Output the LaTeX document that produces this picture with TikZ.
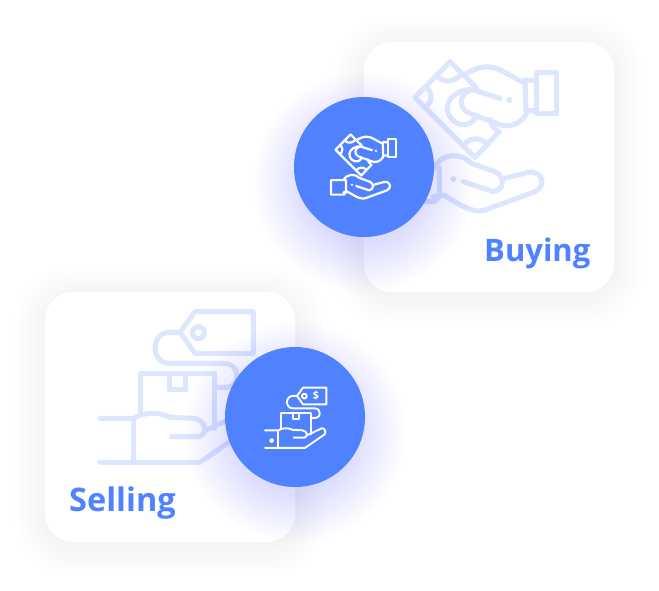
\documentclass[tikz,border=0pt]{standalone}
\usepackage{fontspec}
\setmainfont{Open Sans}
\definecolor{brand}{HTML}{5082FF}
\definecolor{pale}{HTML}{DCE6FF}
\definecolor{glow}{HTML}{5A6CFF}
\definecolor{cardshade}{HTML}{C0C4D0}
\tikzset{
  icon/.style={line cap=round,line join=round},
  cardtext/.style={text=brand,inner sep=0pt,anchor=base west},
}
\newcommand{\handsicon}{%
  % banknote
  \draw (228,112) -- (150,35) -- (45,142) -- (225,322) -- (298,245);
  \draw (115,82) .. controls (135,100) and (165,95) .. (185,72);
  \draw (82,115) .. controls (100,130) and (95,160) .. (76,172);
  \draw (190,288) .. controls (205,260) and (245,260) .. (262,285);
  \draw (270,208) .. controls (272,222) and (280,235) .. (290,240);
  % upper hand
  \draw (190,75) .. controls (235,50) and (265,40) .. (310,65) -- (365,95);
  \draw (375,90) -- (410,90) (375,90) -- (378,180) (378,182) -- (410,182);
  \draw (410,68) -- (470,68) -- (470,190) -- (410,190) -- cycle;
  \draw (380,190) .. controls (360,225) and (325,235) .. (295,222) -- (222,195);
  \draw (300,145) -- (222,120) .. controls (195,112) and (145,135) .. (142,170)
     .. controls (140,205) and (175,232) .. (205,222) .. controls (220,215) and (228,205) .. (225,195);
  \draw (222,195) -- (200,185) .. controls (175,170) and (180,130) .. (210,122);
  \fill (328,150) circle (9);
  % lower hand
  \draw (100,354) .. controls (125,310) and (180,305) .. (215,340) -- (285,365)
     .. controls (315,378) and (315,420) .. (280,425) -- (190,395);
  \fill (160,387) circle (9);
  \draw (315,385) -- (385,367) .. controls (430,360) and (440,410) .. (405,425)
     -- (255,480) .. controls (225,488) and (205,480) .. (130,435) -- (100,440);
  \draw (14,354) -- (103,354) -- (118,354) -- (118,440) -- (103,455) -- (14,455) -- cycle;
}
\newcommand{\boxicon}{%
  % tag
  \draw (315,35) -- (490,35) -- (490,160) -- (315,160) -- (270,97) -- cycle;
  \draw (325,98) circle (18);
  \draw (270,97) -- (240,97) .. controls (180,97) and (180,190) .. (240,190) -- (405,190)
     .. controls (455,195) and (450,262) .. (410,262) -- (378,262);
  % box
  \draw (152,340) -- (152,222) -- (375,222) -- (375,385);
  \draw (238,222) -- (238,270) -- (288,270) -- (288,222);
  % hand
  \draw (30,355) -- (130,355) .. controls (165,335) and (205,335) .. (240,352) -- (310,355)
     .. controls (350,358) and (355,405) .. (325,410) -- (245,410);
  \draw (130,355) -- (130,487);
  \draw (30,487) -- (330,487) -- (478,385) .. controls (490,365) and (478,335) .. (455,340) -- (345,392);
}
\begin{document}
\begin{tikzpicture}[x=1pt,y=-1pt]
  \useasboundingbox (0,0) rectangle (659,590);
  \fill[white] (0,0) rectangle (659,590);
  % card shadows
  \foreach \g in {-3,0,...,30}{
    \fill[cardshade,opacity=0.012,rounded corners={28pt+(\g+3)*1pt}] (364-\g,42-\g+4) rectangle (614+\g,292+\g+4);
    \fill[cardshade,opacity=0.012,rounded corners={28pt+(\g+3)*1pt}] (45-\g,292-\g+4) rectangle (295+\g,542+\g+4);
  }
  \fill[white,rounded corners=28pt] (364,42) rectangle (614,292);
  \fill[white,rounded corners=28pt] (45,292) rectangle (295,542);
  % faded icons
  \begin{scope}[shift={(400,50)},x=0.3333pt,y=-0.3333pt,draw=pale,fill=pale,line width=5pt,icon]
    \handsicon
  \end{scope}
  \begin{scope}[shift={(90,300)},x=0.3333pt,y=-0.3333pt,draw=pale,fill=pale,line width=5pt,icon]
    \boxicon
  \end{scope}
  % circle glows
  \foreach \g in {0,3,...,48}{
    \fill[glow,opacity=0.012] (364,182) circle ({62+\g});
    \fill[glow,opacity=0.012] (295,432) circle ({62+\g});
  }
  \fill[brand] (364,167) circle (70);
  \fill[brand] (295,417) circle (70);
  % white icons
  \begin{scope}[shift={(329,129.4)},x=0.1433pt,y=-0.1433pt,draw=white,fill=white,line width=2.2pt,icon]
    \handsicon
  \end{scope}
  \begin{scope}[shift={(261,383)},x=0.1333pt,y=-0.1333pt,draw=white,fill=white,line width=1.9pt,icon]
    \boxicon
    \draw (80,432) circle (12);
  \end{scope}
  \begin{scope}[shift={(261,383)},x=0.1333pt,y=-0.1333pt]
    \node[text=white,font=\fontsize{11}{12}\selectfont\bfseries,inner sep=0pt] (dollar) at (412,98) {\$};
  \end{scope}
  \node[cardtext,font=\fontsize{31}{36}\selectfont\bfseries] (buying) at (484,261) {Buying};
  \node[cardtext,font=\fontsize{32.5}{36}\selectfont\bfseries] (selling) at (69,511) {Selling};
\end{tikzpicture}
\end{document}
